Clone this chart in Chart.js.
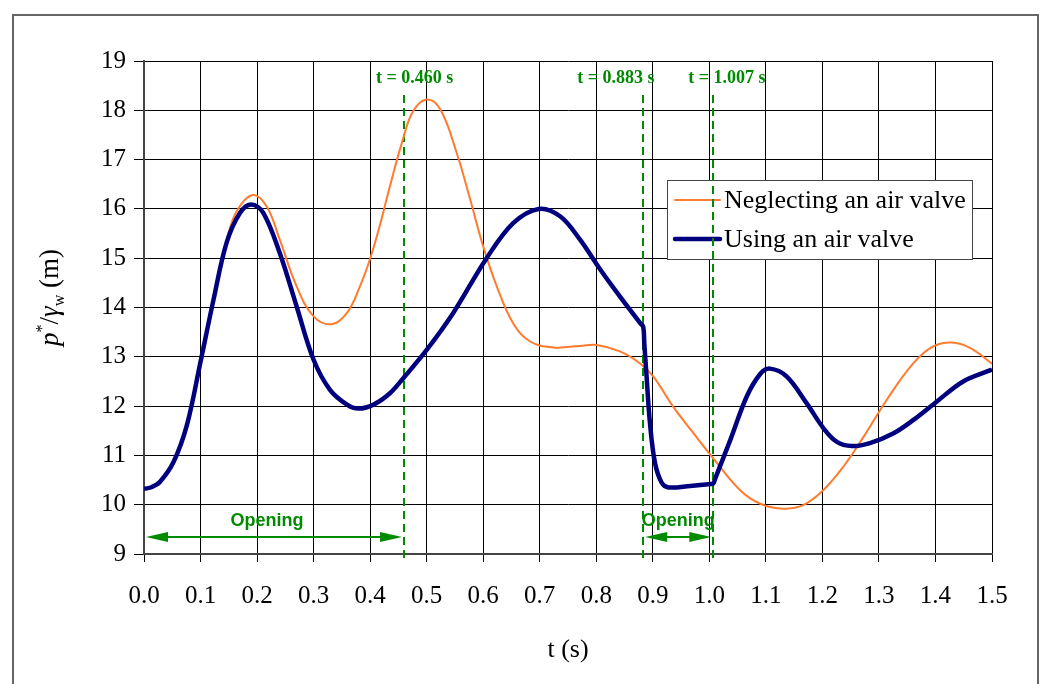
<!DOCTYPE html>
<html><head><meta charset="utf-8">
<script src="https://cdn.jsdelivr.net/npm/chart.js@4/dist/chart.umd.min.js"></script>
<style>html,body{margin:0;padding:0;background:#fff;}</style>
</head><body>
<canvas id="c" width="1043" height="684"></canvas>
<script>
// ---- data ----
const tNeglect = [0.000,0.014,0.028,0.052,0.076,0.100,0.123,0.146,0.164,0.192,0.217,0.240,0.270,0.300,0.332,0.359,0.382,0.400,0.418,0.435,0.458,0.476,0.500,0.524,0.553,0.577,0.600,0.624,0.653,0.683,0.724,0.771,0.801,0.842,0.877,0.901,0.936,0.972,1.007,1.054,1.090,1.131,1.166,1.202,1.237,1.273,1.314,1.361,1.396,1.429,1.461,1.500];
const pNeglect = [10.32,10.36,10.46,10.86,11.62,12.90,14.16,15.35,15.95,16.28,16.05,15.38,14.43,13.82,13.66,13.89,14.43,14.99,15.70,16.46,17.41,17.98,18.22,18.02,17.14,16.19,15.24,14.43,13.68,13.31,13.19,13.22,13.24,13.11,12.87,12.60,11.99,11.45,10.94,10.30,10.02,9.92,9.99,10.30,10.77,11.38,12.13,12.87,13.21,13.29,13.18,12.86];
const tValve = [0.000,0.014,0.028,0.052,0.076,0.100,0.123,0.146,0.170,0.190,0.211,0.240,0.270,0.300,0.329,0.359,0.379,0.406,0.435,0.459,0.500,0.547,0.606,0.653,0.698,0.736,0.771,0.807,0.842,0.878,0.883,0.885,0.889,0.895,0.904,0.916,0.928,0.966,1.003,1.007,1.011,1.037,1.066,1.090,1.107,1.137,1.172,1.202,1.225,1.252,1.284,1.326,1.361,1.402,1.449,1.500];
const pValve = [10.32,10.36,10.46,10.86,11.62,12.90,14.16,15.31,15.92,16.09,15.92,15.11,14.02,12.94,12.33,12.03,11.95,12.03,12.26,12.57,13.14,13.89,15.00,15.71,16.00,15.85,15.38,14.77,14.22,13.68,13.61,13.27,12.60,11.65,10.84,10.44,10.35,10.38,10.42,10.43,10.55,11.31,12.19,12.65,12.76,12.60,12.06,11.55,11.28,11.19,11.25,11.45,11.72,12.09,12.50,12.74];
const seriesNames = ['Neglecting an air valve','Using an air valve'];
const xTickValues = [0.0,0.1,0.2,0.3,0.4,0.5,0.6,0.7,0.8,0.9,1.0,1.1,1.2,1.3,1.4,1.5];
const yTickValues = [9,10,11,12,13,14,15,16,17,18,19];
const markerTimes = [0.460,0.883,1.007];
const markerLabels = ['t = 0.460 s','t = 0.883 s','t = 1.007 s'];
const openingStarts = [0.000,0.883];
const openingEnds = [0.460,1.007];
const openingText = 'Opening';
const xTitle = 't (s)';

const GREEN = '#008a00';
const ORANGE = '#ff7b2e';
const NAVY = '#00007f';
const SERIF = '"Liberation Serif","Times New Roman",serif';

function pts(ts, vs){ return ts.map((t,i)=>({x:t,y:vs[i]})); }

const decor = {
  id:'decor',
  beforeDraw(chart){
    const ctx = chart.ctx;
    ctx.save(); ctx.fillStyle='#fff'; ctx.fillRect(0,0,chart.width,chart.height); ctx.restore();
  },
  beforeDatasetsDraw(chart){
    const {ctx, chartArea:a, scales:{x,y}} = chart;
    ctx.save();
    // legend box
    const lx = a.left + 523, ly = a.top + 119, lw = 305, lh = 79;
    ctx.fillStyle = '#fff'; ctx.fillRect(lx, ly, lw, lh);
    ctx.strokeStyle = '#444'; ctx.lineWidth = 1; ctx.strokeRect(lx+0.5, ly+0.5, lw, lh);
    const ds = chart.data.datasets;
    const rows = [ly+20, ly+59];
    ds.forEach((d,i)=>{
      ctx.strokeStyle = d.borderColor; ctx.lineWidth = d.borderWidth; ctx.lineCap='round';
      ctx.beginPath(); ctx.moveTo(lx+8, rows[i]); ctx.lineTo(lx+53, rows[i]); ctx.stroke();
      ctx.fillStyle = '#000'; ctx.font = '26px '+SERIF; ctx.textBaseline='middle'; ctx.textAlign='left';
      ctx.fillText(d.label, lx+57, rows[i]+1);
    });
    ctx.lineCap='butt';
    // dashed marker lines
    ctx.strokeStyle = GREEN; ctx.lineWidth = 2; ctx.setLineDash([8,5]);
    const labelShift = [-28,-66,-25];
    markerTimes.forEach((t,i)=>{
      const px = Math.round(x.getPixelForValue(t));
      ctx.beginPath(); ctx.moveTo(px, a.top+34); ctx.lineTo(px, a.bottom+5); ctx.stroke();
    });
    ctx.setLineDash([]);
    ctx.fillStyle = GREEN; ctx.font = 'bold 18px '+SERIF; ctx.textBaseline='middle'; ctx.textAlign='left';
    markerTimes.forEach((t,i)=>{
      ctx.fillText(markerLabels[i], x.getPixelForValue(t)+labelShift[i], a.top+17);
    });
    // opening arrows
    const ay = a.bottom - 17;
    openingStarts.forEach((s,i)=>{
      const x0 = x.getPixelForValue(s)+2, x1 = x.getPixelForValue(openingEnds[i])-2;
      const hl = 22, hw = 5;
      ctx.strokeStyle = GREEN; ctx.lineWidth = 2;
      ctx.beginPath(); ctx.moveTo(x0+hl-2, ay); ctx.lineTo(x1-hl+2, ay); ctx.stroke();
      ctx.fillStyle = GREEN;
      ctx.beginPath(); ctx.moveTo(x0, ay); ctx.lineTo(x0+hl, ay-hw); ctx.lineTo(x0+hl, ay+hw); ctx.closePath(); ctx.fill();
      ctx.beginPath(); ctx.moveTo(x1, ay); ctx.lineTo(x1-hl, ay-hw); ctx.lineTo(x1-hl, ay+hw); ctx.closePath(); ctx.fill();
      ctx.font = 'bold 18px "Liberation Sans", Arial, sans-serif'; ctx.textAlign='center'; ctx.textBaseline='middle';
      ctx.fillText(openingText, (x0+x1)/2 - (i===0?7:0), ay-16);
    });
    ctx.restore();
  },
  afterDraw(chart){
    const {ctx, chartArea:a} = chart;
    ctx.save();
    // outer frame (open at bottom)
    ctx.strokeStyle = '#666'; ctx.lineWidth = 2;
    ctx.beginPath(); ctx.moveTo(13, 684); ctx.lineTo(13, 15); ctx.lineTo(1038, 15); ctx.lineTo(1038, 684); ctx.stroke();
    // y axis title: p*/γw (m)
    const big = '27px '+SERIF, bigI = 'italic 27px '+SERIF, small = '16px '+SERIF;
    const parts = [
      {t:'p', f:bigI, dy:0},
      {t:'*', f:small, dy:-11},
      {t:'/', f:big, dy:0},
      {t:'γ', f:bigI, dy:0},
      {t:'w', f:small, dy:6},
      {t:' (m)', f:big, dy:0}
    ];
    let total = 0;
    parts.forEach(p=>{ ctx.font=p.f; p.w = ctx.measureText(p.t).width; total += p.w; });
    ctx.translate(49, (a.top+a.bottom)/2 - 10);
    ctx.rotate(-Math.PI/2);
    ctx.fillStyle = '#000'; ctx.textBaseline = 'alphabetic'; ctx.textAlign='left';
    let cx = -total/2;
    parts.forEach(p=>{ ctx.font=p.f; ctx.fillText(p.t, cx, 9+p.dy); cx += p.w; });
    ctx.restore();
  }
};

new Chart(document.getElementById('c'), {
  type:'line',
  data:{
    datasets:[
      {label:seriesNames[0], data:pts(tNeglect,pNeglect), borderColor:ORANGE, backgroundColor:ORANGE, borderWidth:2, pointRadius:0, tension:0.4, order:1},
      {label:seriesNames[1], data:pts(tValve,pValve), borderColor:NAVY, backgroundColor:NAVY, borderWidth:4.5, pointRadius:0, tension:0.35, borderJoinStyle:'round', order:0}
    ]
  },
  options:{
    responsive:false, animation:false, devicePixelRatio:1,
    layout:{padding:{left:0, top:61, right:51, bottom:0}},
    plugins:{legend:{display:false}, tooltip:{enabled:false}},
    scales:{
      x:{
        type:'linear', min:0, max:1.5,
        afterBuildTicks(s){ s.ticks = xTickValues.map(v=>({value:v})); },
        afterFit(s){ s.height = 130; },
        ticks:{ color:'#000', font:{family:SERIF, size:25}, padding:19, maxRotation:0, autoSkip:false, callback:(v)=>Number(v).toFixed(1) },
        grid:{ color:'#000', lineWidth:1, tickLength:8, tickColor:'#000' },
        border:{ color:'#444', width:2 },
        title:{ display:true, text:xTitle, color:'#000', font:{family:SERIF, size:26}, padding:{top:0,bottom:18} }
      },
      y:{
        type:'linear', min:9, max:19,
        afterBuildTicks(s){ s.ticks = yTickValues.map(v=>({value:v})); },
        afterFit(s){ s.width = 144; },
        ticks:{ color:'#000', font:{family:SERIF, size:25}, padding:8, autoSkip:false },
        grid:{ color:'#000', lineWidth:1, tickLength:10, tickColor:'#000' },
        border:{ color:'#444', width:2 }
      }
    }
  },
  plugins:[decor]
});
</script>
</body></html>
